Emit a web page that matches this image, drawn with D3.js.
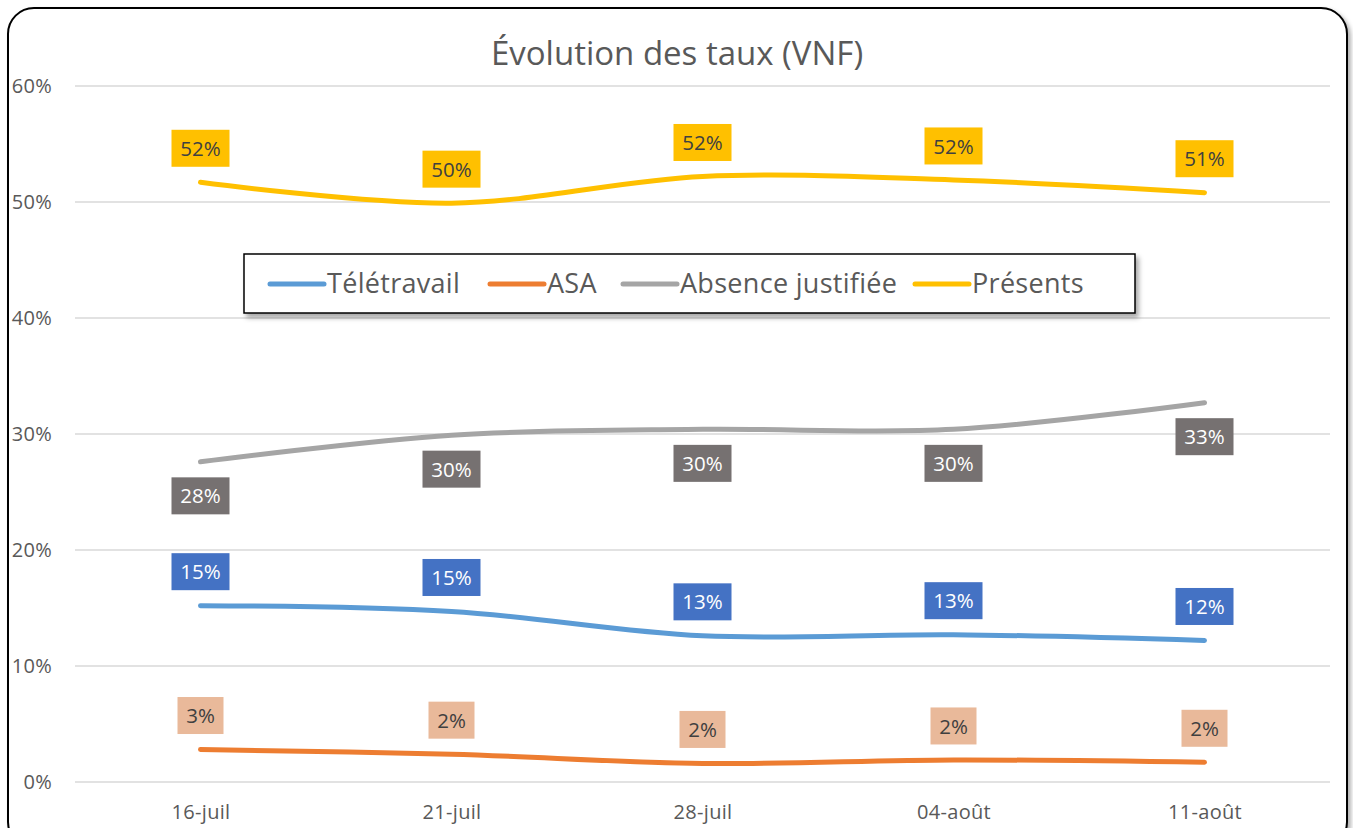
<!DOCTYPE html>
<html lang="fr">
<head>
<meta charset="UTF-8">
<title>Évolution des taux (VNF)</title>
<script src="https://d3js.org/d3.v7.min.js"></script>
<style>
    html, body { margin: 0; padding: 0; background: #fff; overflow: hidden; }
    text { font-family: "Open Sans", "Noto Sans", sans-serif; }
</style>
</head>
<body>
<div id="chart"></div>
<script>
    // data
    var dates = ["16-juil", "21-juil", "28-juil", "04-août", "11-août"];
    var seriesNames = ["Télétravail", "ASA", "Absence justifiée", "Présents"];
    var teletravail = [0.152, 0.147, 0.126, 0.127, 0.122];
    var asa = [0.028, 0.024, 0.016, 0.019, 0.017];
    var absence = [0.276, 0.299, 0.304, 0.304, 0.327];
    var presents = [0.517, 0.499, 0.522, 0.519, 0.508];
    var yTicks = [0, 0.1, 0.2, 0.3, 0.4, 0.5, 0.6];

    var lineColors = ["#5B9BD5", "#ED7D31", "#A5A5A5", "#FFC000"];
    var labelFill = ["#4472C4", "#E9B99A", "#767171", "#FFC000"];
    var labelText = ["#ffffff", "#404040", "#ffffff", "#404040"];
    var labelSide = [-1, -1, 1, -1]; // -1 above, 1 below

    var W = 1353, H = 828;
    var margin = {top: 86, right: 23, bottom: 46, left: 75};
    var width = W - margin.left - margin.right,
        height = H - margin.top - margin.bottom;

    var svg = d3.select("#chart").append("svg")
        .attr("width", W)
        .attr("height", H);

    var defs = svg.append("defs");
    var f = defs.append("filter").attr("id", "shadow")
        .attr("x", "-5%").attr("y", "-20%").attr("width", "115%").attr("height", "160%");
    f.append("feDropShadow").attr("dx", 3).attr("dy", 4).attr("stdDeviation", 2.5)
        .attr("flood-color", "#000").attr("flood-opacity", 0.35);
    var f2 = defs.append("filter").attr("id", "shadow2")
        .attr("x", "-2%").attr("y", "-2%").attr("width", "104%").attr("height", "104%");
    f2.append("feDropShadow").attr("dx", 3).attr("dy", 3).attr("stdDeviation", 2)
        .attr("flood-color", "#000").attr("flood-opacity", 0.3);

    // outer frame
    svg.append("rect")
        .attr("x", 8).attr("y", 8)
        .attr("width", 1339).attr("height", 840)
        .attr("rx", 26).attr("ry", 26)
        .attr("fill", "#fff")
        .attr("stroke", "#000")
        .attr("stroke-width", 2)
        .attr("filter", "url(#shadow2)");

    var g = svg.append("g")
        .attr("transform", "translate(" + margin.left + "," + margin.top + ")");

    var x = d3.scalePoint().domain(dates).range([0, width]).padding(0.5);
    var y = d3.scaleLinear().domain([0, 0.6]).range([height, 0]);

    // gridlines
    g.append("g").selectAll("line").data(yTicks).enter().append("line")
        .attr("x1", 0).attr("x2", width)
        .attr("y1", function(d) { return y(d); })
        .attr("y2", function(d) { return y(d); })
        .attr("stroke", "#D9D9D9")
        .attr("stroke-width", 1.3);

    var yAxis = g.append("g")
        .call(d3.axisLeft(y).tickValues(yTicks).tickSize(0).tickPadding(23)
            .tickFormat(d3.format(".0%")));
    yAxis.select(".domain").remove();
    yAxis.selectAll("text").attr("fill", "#595959").attr("font-size", 20)
        .attr("letter-spacing", 0.3);

    var xAxis = g.append("g")
        .attr("transform", "translate(0," + height + ")")
        .call(d3.axisBottom(x).tickSize(0).tickPadding(23));
    xAxis.select(".domain").remove();
    xAxis.selectAll("text").attr("fill", "#595959").attr("font-size", 20)
        .attr("letter-spacing", 0.3);

    // title
    svg.append("text")
        .attr("x", 677).attr("y", 65)
        .attr("text-anchor", "middle")
        .attr("fill", "#595959")
        .attr("font-size", 33)
        .text("Évolution des taux (VNF)");

    var allSeries = [teletravail, asa, absence, presents];

    var line = d3.line()
        .x(function(d, i) { return x(dates[i]); })
        .y(function(d) { return y(d); })
        .curve(d3.curveCatmullRom.alpha(0.5));

    g.selectAll(".line").data(allSeries).enter().append("path")
        .attr("class", "line")
        .attr("fill", "none")
        .attr("stroke", function(d, i) { return lineColors[i]; })
        .attr("stroke-width", 5)
        .attr("stroke-linecap", "round")
        .attr("stroke-linejoin", "round")
        .attr("d", line);

    // data labels
    var fmt = d3.format(".0%");
    allSeries.forEach(function(vals, s) {
        var lab = g.append("g").selectAll("g").data(vals).enter().append("g")
            .attr("transform", function(d, i) {
                return "translate(" + x(dates[i]) + "," + (y(d) + labelSide[s] * 34) + ")";
            });
        var bw = s === 1 ? 46 : 58;
        lab.append("rect")
            .attr("x", -bw / 2).attr("y", -18.5)
            .attr("width", bw).attr("height", 37)
            .attr("fill", labelFill[s]);
        lab.append("text")
            .attr("text-anchor", "middle")
            .attr("dy", "0.37em")
            .attr("font-size", 20.5)
            .attr("fill", labelText[s])
            .text(function(d) { return fmt(d); });
    });

    // legend
    var lg = svg.append("g").attr("transform", "translate(244,254)");
    lg.append("rect")
        .attr("width", 891).attr("height", 59)
        .attr("fill", "#fff")
        .attr("stroke", "#000")
        .attr("stroke-width", 1.5)
        .attr("filter", "url(#shadow)");
    var legendX = [26, 246, 379, 671];
    var items = lg.selectAll(".item").data(seriesNames).enter().append("g")
        .attr("class", "item")
        .attr("transform", function(d, i) { return "translate(" + legendX[i] + ",30)"; });
    items.append("line")
        .attr("x1", 0).attr("x2", 54)
        .attr("stroke", function(d, i) { return lineColors[i]; })
        .attr("stroke-width", 5)
        .attr("stroke-linecap", "round");
    items.append("text")
        .attr("x", 57)
        .attr("dy", "0.35em")
        .attr("font-size", 27)
        .attr("letter-spacing", 0.3)
        .attr("fill", "#595959")
        .text(function(d) { return d; });
</script>
</body>
</html>
